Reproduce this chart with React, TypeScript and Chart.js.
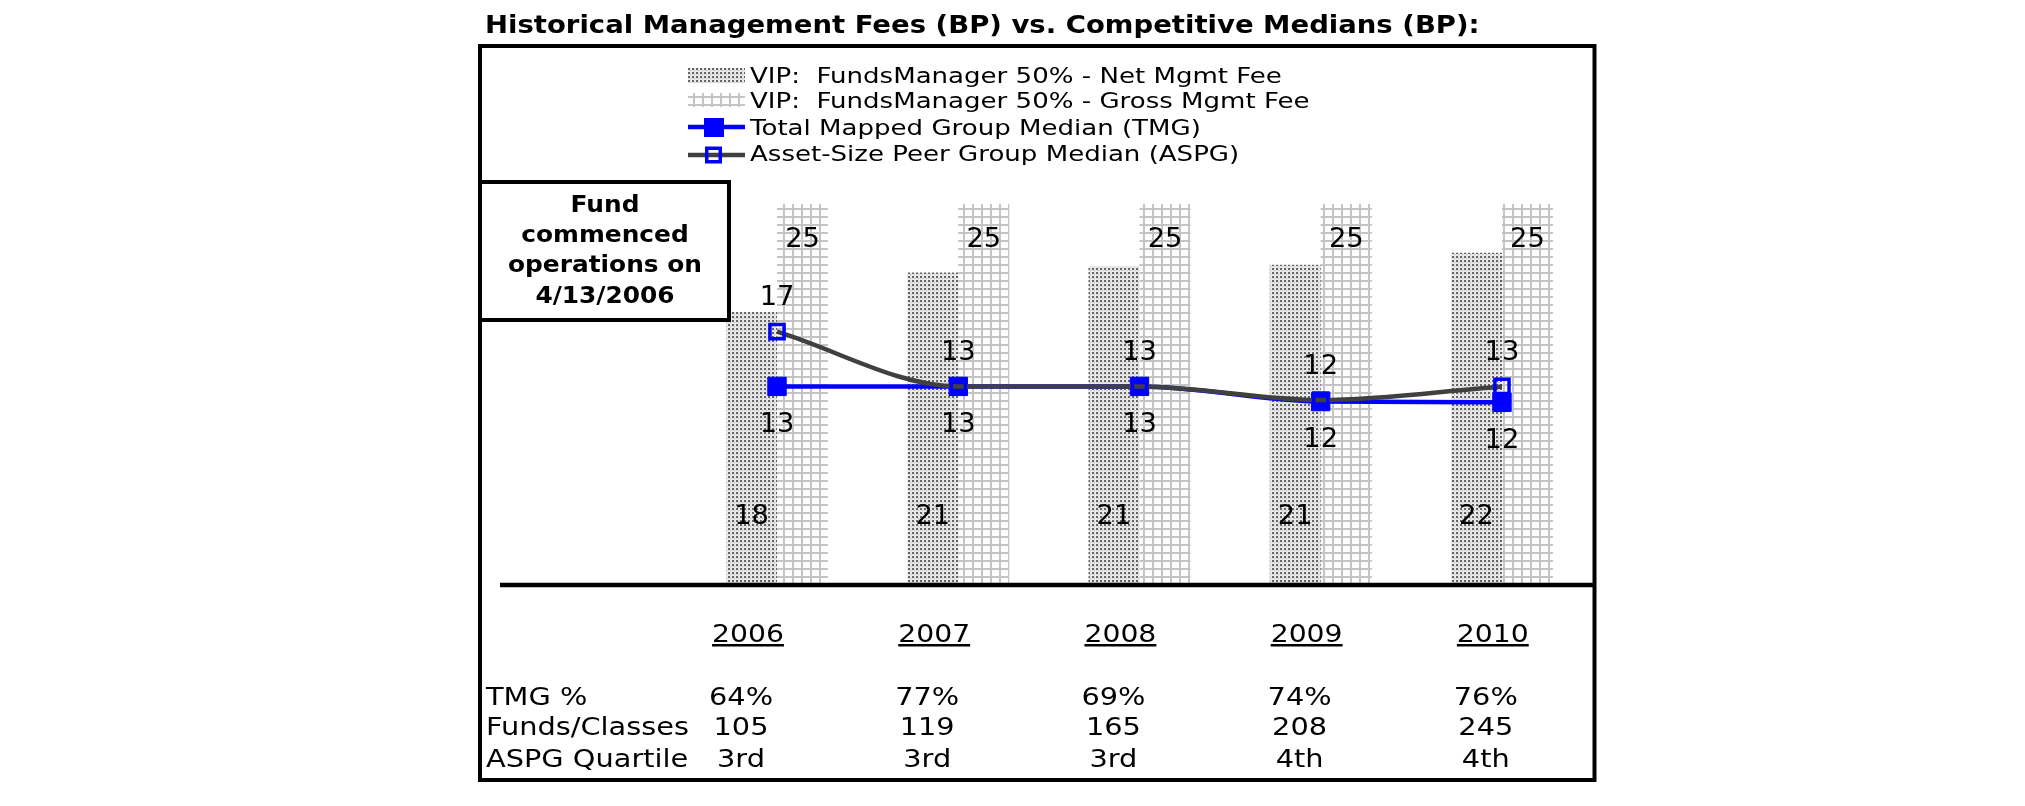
import React, { useEffect, useRef } from 'react';
import { Chart, registerables } from 'chart.js';

Chart.register(...registerables);

// ---------- data ----------
const chartTitle = 'Historical Management Fees (BP) vs. Competitive Medians (BP):';
const years = ['2006', '2007', '2008', '2009', '2010'];
const netMgmtFee = [17.9, 20.5, 20.9, 21.0, 21.8];
const grossMgmtFee = [25, 25, 25, 25, 25];
const tmgMedian = [13.0, 13.0, 13.0, 12.0, 11.95];
const aspgMedian = [16.6, 13.0, 13.0, 12.1, 13.0];
const seriesNames = [
  'VIP:  FundsManager 50% - Net Mgmt Fee',
  'VIP:  FundsManager 50% - Gross Mgmt Fee',
  'Total Mapped Group Median (TMG)',
  'Asset-Size Peer Group Median (ASPG)',
];
const noteLines = ['Fund', 'commenced', 'operations on', '4/13/2006'];
const tableRowLabels = ['TMG %', 'Funds/Classes', 'ASPG Quartile'];
const tmgPercent = ['64%', '77%', '69%', '74%', '76%'];
const fundsClasses = ['105', '119', '165', '208', '245'];
const aspgQuartile = ['3rd', '3rd', '3rd', '4th', '4th'];

// ---------- style / layout ----------
const W = 2025;
const H = 806;
const FONT = '"DejaVu Sans", Verdana, sans-serif';
const BLUE = '#0000FF';
const GREY = '#404040';

function makeNetPattern(ctx: CanvasRenderingContext2D) {
  const c = document.createElement('canvas');
  c.width = 4;
  c.height = 4;
  const g = c.getContext('2d')!;
  g.fillStyle = '#e8e8e8';
  g.fillRect(0, 0, 4, 4);
  g.fillStyle = '#646464';
  g.fillRect(0, 0, 2, 2);
  g.fillStyle = '#b8b8b8';
  g.fillRect(2, 2, 1, 1);
  return ctx.createPattern(c, 'repeat')!;
}

function makeGrossPattern(ctx: CanvasRenderingContext2D) {
  const c = document.createElement('canvas');
  c.width = 9;
  c.height = 8;
  const g = c.getContext('2d')!;
  g.fillStyle = '#ffffff';
  g.fillRect(0, 0, 9, 8);
  g.fillStyle = '#c4c4c4';
  g.fillRect(0, 0, 2, 8);
  g.fillRect(0, 0, 9, 2);
  return ctx.createPattern(c, 'repeat')!;
}

function txt(
  ctx: CanvasRenderingContext2D,
  s: string,
  x: number,
  y: number,
  font: string,
  align: CanvasTextAlign,
  sx: number,
  color = '#000000'
) {
  ctx.save();
  ctx.font = font;
  ctx.fillStyle = color;
  ctx.textAlign = align;
  ctx.textBaseline = 'alphabetic';
  ctx.translate(x, y);
  ctx.scale(sx, 1);
  ctx.fillText(s, 0, 0);
  ctx.restore();
}

function textWidth(ctx: CanvasRenderingContext2D, s: string, font: string, sx: number) {
  ctx.save();
  ctx.font = font;
  const w = ctx.measureText(s).width * sx;
  ctx.restore();
  return w;
}

export default function App() {
  const ref = useRef<HTMLCanvasElement | null>(null);

  useEffect(() => {
    const canvas = ref.current!;
    const ctx0 = canvas.getContext('2d')!;
    const netPattern = makeNetPattern(ctx0);
    const grossPattern = makeGrossPattern(ctx0);

    const decor = {
      id: 'decor',
      afterDraw(chart: any) {
        const ctx: CanvasRenderingContext2D = chart.ctx;
        const ys = chart.scales.y;
        const y0 = ys.getPixelForValue(0);

        // outer frame
        ctx.save();
        ctx.strokeStyle = '#000';
        ctx.lineWidth = 4;
        ctx.strokeRect(480, 46, 1114.5, 734);
        ctx.restore();

        // title
        txt(ctx, chartTitle, 485, 33, `bold 25px ${FONT}`, 'left', 1.1);

        // legend
        const lx0 = 688;
        const lx1 = 745;
        const ltx = 750;
        const lfont = `21px ${FONT}`;
        const lsx = 1.24;
        ctx.save();
        ctx.fillStyle = netPattern;
        ctx.fillRect(lx0, 68, lx1 - lx0, 15);
        ctx.fillStyle = grossPattern;
        ctx.fillRect(lx0, 93, lx1 - lx0, 14);
        // TMG
        ctx.strokeStyle = BLUE;
        ctx.lineWidth = 4.5;
        ctx.beginPath();
        ctx.moveTo(lx0, 127);
        ctx.lineTo(lx1, 127);
        ctx.stroke();
        ctx.fillStyle = BLUE;
        ctx.fillRect(704, 118, 20, 19);
        // ASPG
        ctx.strokeStyle = GREY;
        ctx.beginPath();
        ctx.moveTo(lx0, 155);
        ctx.lineTo(lx1, 155);
        ctx.stroke();
        ctx.strokeStyle = BLUE;
        ctx.lineWidth = 3.5;
        ctx.strokeRect(706.75, 148.25, 13.5, 13.5);
        ctx.restore();
        const legendBaselines = [83, 108, 135, 161];
        seriesNames.forEach((n, i) => txt(ctx, n, ltx, legendBaselines[i], lfont, 'left', lsx));

        // note box
        ctx.save();
        ctx.fillStyle = '#ffffff';
        ctx.fillRect(480, 182, 249, 138);
        ctx.strokeStyle = '#000';
        ctx.lineWidth = 4;
        ctx.strokeRect(480, 182, 249, 138);
        ctx.restore();
        const noteBaselines = [212, 242, 272, 303];
        noteLines.forEach((l, i) =>
          txt(ctx, l, 605, noteBaselines[i], `bold 23px ${FONT}`, 'center', 1.08)
        );

        // baseline
        ctx.save();
        ctx.strokeStyle = '#000';
        ctx.lineWidth = 4.5;
        ctx.beginPath();
        ctx.moveTo(500, y0 + 1);
        ctx.lineTo(1594, y0 + 1);
        ctx.stroke();
        ctx.restore();

        // data labels
        const lab = `26px ${FONT}`;
        const netMeta = chart.getDatasetMeta(0);
        const grossMeta = chart.getDatasetMeta(1);
        const tmgMeta = chart.getDatasetMeta(2);
        const aspgMeta = chart.getDatasetMeta(3);
        netMeta.data.forEach((el: any, i: number) => {
          txt(ctx, String(Math.round(netMgmtFee[i])), el.x, y0 - 60.5, lab, 'center', 1.05);
        });
        grossMeta.data.forEach((el: any, i: number) => {
          txt(ctx, String(Math.round(grossMgmtFee[i])), el.x, el.y + 42.5, lab, 'center', 1.05);
        });
        tmgMeta.data.forEach((el: any, i: number) => {
          txt(ctx, String(Math.round(tmgMedian[i])), el.x, el.y + 45.5, lab, 'center', 1.05);
        });
        aspgMeta.data.forEach((el: any, i: number) => {
          txt(ctx, String(Math.round(aspgMedian[i])), el.x, el.y - 26.5, lab, 'center', 1.05);
        });

        // table
        const colStep = 186.2;
        const yearFont = `25px ${FONT}`;
        const ysx = 1.13;
        years.forEach((yr, i) => {
          const cx = 748 + colStep * i;
          txt(ctx, yr, cx, 642, yearFont, 'center', ysx);
          const w = textWidth(ctx, yr, yearFont, ysx);
          ctx.fillStyle = '#000';
          ctx.fillRect(cx - w / 2, 644, w, 2.5);
        });
        const tFont = `24px ${FONT}`;
        const tsx = 1.2;
        const rowBaselines = [705, 735, 767];
        const rows = [tmgPercent, fundsClasses, aspgQuartile];
        tableRowLabels.forEach((l, r) => {
          txt(ctx, l, 486, rowBaselines[r], tFont, 'left', tsx);
          rows[r].forEach((v, i) => {
            txt(ctx, v, 741 + colStep * i, rowBaselines[r], tFont, 'center', tsx);
          });
        });
      },
    };

    const chart = new Chart(canvas, {
      type: 'bar',
      data: {
        labels: years,
        datasets: [
          {
            type: 'bar',
            label: seriesNames[0],
            data: netMgmtFee,
            backgroundColor: netPattern as any,
            borderWidth: 0,
            categoryPercentage: 0.563,
            barPercentage: 1.0,
            order: 2,
          },
          {
            type: 'bar',
            label: seriesNames[1],
            data: grossMgmtFee,
            backgroundColor: grossPattern as any,
            borderWidth: 0,
            categoryPercentage: 0.563,
            barPercentage: 1.0,
            order: 3,
          },
          {
            type: 'line',
            label: seriesNames[2],
            data: tmgMedian,
            borderColor: BLUE,
            backgroundColor: BLUE,
            borderWidth: 4.5,
            pointStyle: 'rect',
            pointRadius: 13,
            pointBackgroundColor: BLUE,
            pointBorderColor: BLUE,
            pointBorderWidth: 1,
            cubicInterpolationMode: 'monotone',
            order: 1,
          } as any,
          {
            type: 'line',
            label: seriesNames[3],
            data: aspgMedian,
            borderColor: GREY,
            backgroundColor: 'rgba(0,0,0,0)',
            borderWidth: 4.5,
            pointStyle: 'rect',
            pointRadius: 10,
            pointBackgroundColor: 'rgba(0,0,0,0)',
            pointBorderColor: BLUE,
            pointBorderWidth: 3.5,
            cubicInterpolationMode: 'monotone',
            order: 0,
          } as any,
        ],
      },
      options: {
        animation: false,
        responsive: false,
        maintainAspectRatio: false,
        devicePixelRatio: 1,
        layout: {
          padding: { left: 686.4, right: W - 1592.6, top: 128, bottom: H - 584 },
        },
        scales: {
          x: { display: false, offset: true, grid: { display: false } },
          y: { display: false, min: 0, max: 30 },
        },
        plugins: {
          legend: { display: false },
          title: { display: false },
          tooltip: { enabled: false },
        },
      },
      plugins: [decor],
    });

    return () => chart.destroy();
  }, []);

  return (
    <div style={{ position: 'absolute', left: 0, top: 0, width: W, height: H, background: '#ffffff' }}>
      <canvas ref={ref} width={W} height={H} style={{ display: 'block' }} />
    </div>
  );
}
